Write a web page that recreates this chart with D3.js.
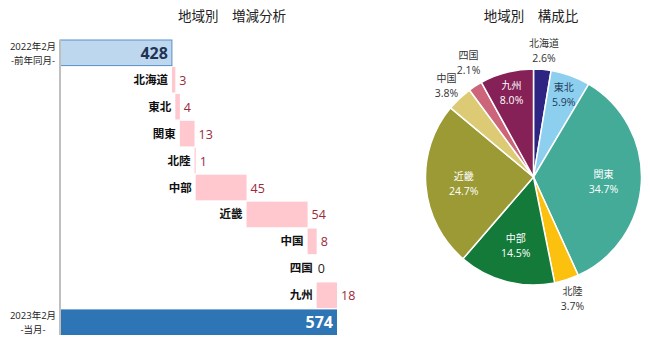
<!DOCTYPE html>
<html><head><meta charset="utf-8">
<script src="https://cdn.jsdelivr.net/npm/d3@7"></script>
<style>
body{margin:0;background:#fff;}
svg{font-family:"Open Sans","Noto Sans CJK JP",sans-serif;}
</style></head>
<body><svg id="c" width="650" height="351"></svg>
<script>
const regions = ["北海道","東北","関東","北陸","中部","近畿","中国","四国","九州"];
const changes = [3,4,13,1,45,54,8,0,18];
const prevTotal = 428;
const currTotal = 574;
const prevLabel = ["2022年2月","-前年同月-"];
const currLabel = ["2023年2月","-当月-"];
const shareValues = [15,34,199,21,83,142,22,12,46];
const shareColors = ["#2e2583","#8dcfee","#45ab99","#fcc00f","#147a3a","#9b9a35","#dccb74","#cc6579","#862157"];
const shareTextColors = ["#333","#1f3a5a","#fff","#333","#fff","#fff","#333","#333","#fff"];

const svg = d3.select("#c");

// ---------- Waterfall ----------
const rows = ["prev", ...regions, "curr"];
const x = d3.scaleLinear().domain([329, 574]).range([60, 337]);
const y = d3.scaleBand().domain(rows).range([40, 335]).paddingInner(0.05).paddingOuter(0);

svg.append("text").attr("x", 232).attr("y", 21).attr("text-anchor","middle")
  .attr("font-size", 13.5).attr("fill","#222").text("地域別　増減分析");

let cum = prevTotal;
const steps = regions.map((r,i)=>{ const s = {name:r, start:cum, end:cum+changes[i], v:changes[i]}; cum += changes[i]; return s; });

// prev bar
svg.append("rect").attr("x", x(329)).attr("y", y("prev")).attr("width", x(prevTotal)-x(329))
  .attr("height", y.bandwidth()).attr("fill","#bdd7ee").attr("stroke","#5b8fc7").attr("stroke-width",1);
svg.append("text").attr("x", x(prevTotal)-4).attr("y", y("prev")+y.bandwidth()/2+6)
  .attr("text-anchor","end").attr("font-size",16).attr("font-weight","bold").attr("fill","#1f3357").text(prevTotal);

// curr bar
svg.append("rect").attr("x", x(329)).attr("y", y("curr")).attr("width", x(currTotal)-x(329))
  .attr("height", y.bandwidth()).attr("fill","#2e75b6");
svg.append("text").attr("x", x(currTotal)-4).attr("y", y("curr")+y.bandwidth()/2+6)
  .attr("text-anchor","end").attr("font-size",16).attr("font-weight","bold").attr("fill","#fff").text(currTotal);

// steps
const g = svg.append("g");
g.selectAll("rect.step").data(steps).join("rect").attr("class","step")
  .attr("x", d=>x(d.start)).attr("y", d=>y(d.name))
  .attr("width", d=>Math.max(0, x(d.end)-x(d.start))).attr("height", y.bandwidth())
  .attr("fill","#ffc7ce");
g.selectAll("text.cat").data(steps).join("text").attr("class","cat")
  .attr("x", d=>x(d.start)-4).attr("y", d=>y(d.name)+y.bandwidth()/2+4)
  .attr("text-anchor","end").attr("font-size",11.5).attr("font-weight","bold").attr("fill","#111")
  .text(d=>d.name);
g.selectAll("text.val").data(steps).join("text").attr("class","val")
  .attr("x", d=>x(d.end)+(d.v===0?1:4)).attr("y", d=>y(d.name)+y.bandwidth()/2+5)
  .attr("font-size",12.5).attr("fill", d=>d.v===0?"#222":"#9c2a3a")
  .text(d=>d.v);

// axis line
svg.append("line").attr("x1", x(329)).attr("x2", x(329)).attr("y1", 40).attr("y2", 335)
  .attr("stroke","#bfbfbf").attr("stroke-width",2);

// left labels
[[prevLabel,"prev"],[currLabel,"curr"]].forEach(([lab,k])=>{
  const cy = y(k)+y.bandwidth()/2;
  svg.append("text").attr("x",33).attr("y",cy-3).attr("text-anchor","middle").attr("font-size",9.5).attr("fill","#222").text(lab[0]);
  svg.append("text").attr("x",33).attr("y",cy+11).attr("text-anchor","middle").attr("font-size",9.5).attr("fill","#222").text(lab[1]);
});

// ---------- Pie ----------
const cx = 533.5, cyP = 177, R = 108;
svg.append("text").attr("x", 531).attr("y", 21).attr("text-anchor","middle")
  .attr("font-size", 13.5).attr("fill","#222").text("地域別　構成比");

const total = d3.sum(shareValues);
const pie = d3.pie().sort(null).value(d=>d.v);
const data = pie(regions.map((r,i)=>({name:r, v:shareValues[i], i})));
const arc = d3.arc().innerRadius(0).outerRadius(R);
const pg = svg.append("g").attr("transform",`translate(${cx},${cyP})`);
pg.selectAll("path").data(data).join("path").attr("d", arc)
  .attr("fill", d=>shareColors[d.data.i]).attr("stroke","#fff").attr("stroke-width",1.5);

let prevOutside = false;
data.forEach(d=>{
  const frac = d.data.v/total;
  let mid = (d.startAngle+d.endAngle)/2;
  let r, col;
  const outside = frac < 0.05;
  if (outside) {
    if (prevOutside) { r = 132; mid += 0.055; } else { r = 127; }
    col = "#333";
  }
  else if (frac < 0.1) { r = 88; col = shareTextColors[d.data.i]; }
  else { r = 70; col = shareTextColors[d.data.i]; }
  prevOutside = outside;
  const lx = Math.sin(mid)*r, ly = -Math.cos(mid)*r;
  const pct = (frac*100).toFixed(1)+"%";
  pg.append("text").attr("x",lx).attr("y",ly-3).attr("text-anchor","middle").attr("font-size",10).attr("fill",col).text(d.data.name);
  pg.append("text").attr("x",lx).attr("y",ly+12).attr("text-anchor","middle").attr("font-size",10.5).attr("fill",col).text(pct);
});
</script></body></html>
